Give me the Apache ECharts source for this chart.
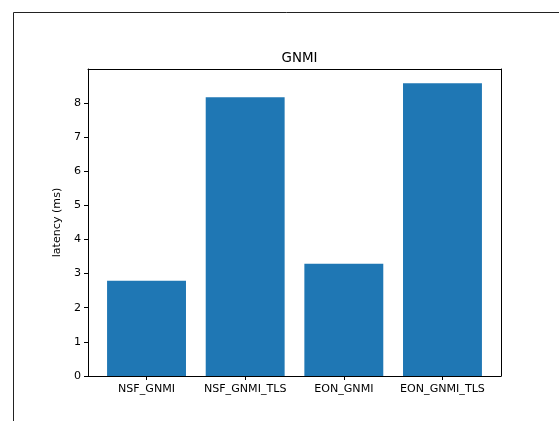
<!DOCTYPE html>
<html>
<head>
<meta charset="utf-8">
<script src="https://cdn.jsdelivr.net/npm/echarts@6/dist/echarts.min.js"></script>
<style>
  html, body { margin: 0; padding: 0; background: #fff; }
  #chart { width: 559px; height: 421px; }
</style>
</head>
<body>
<div id="chart"></div>
<script>
// Mean gNMI request latency per setup
const categories = ['NSF_GNMI', 'NSF_GNMI_TLS', 'EON_GNMI', 'EON_GNMI_TLS'];
const latencyMs = [2.79, 8.16, 3.29, 8.57];
const yTicks = [0, 1, 2, 3, 4, 5, 6, 7, 8];
const yMax = 8.99;

const FONT = 'DejaVu Sans';
const INK = '#000';

// Axes box and the inner band area where the bars sit
const box = { left: 88, top: 69, width: 413, height: 307 };
const barArea = { left: 97.2, top: 69, width: 394.6, height: 307 };

const chart = echarts.init(document.getElementById('chart'), null, { renderer: 'canvas' });

const lineStyle = { color: INK, width: 1 };
const spine = { show: true, onZero: false, lineStyle };

chart.setOption({
  animation: false,
  backgroundColor: '#fff',
  title: {
    text: 'GNMI',
    left: 294.5,
    top: 47,
    textAlign: 'center',
    textStyle: { fontFamily: FONT, fontSize: 13.4, fontWeight: 'normal', color: INK }
  },
  graphic: [
    // figure frame
    {
      type: 'polyline',
      shape: { points: [[13.5, 425], [13.5, 12.5], [565, 12.5]] },
      style: { stroke: '#222', lineWidth: 1, fill: null },
      silent: true
    }
  ],
  grid: [
    Object.assign({ containLabel: false }, box),
    Object.assign({ containLabel: false }, barArea)
  ],
  xAxis: [
    { // bottom spine
      type: 'value', gridIndex: 0, min: 0, max: 1, position: 'bottom',
      axisLine: spine, axisTick: { show: false },
      axisLabel: { show: false }, splitLine: { show: false }
    },
    { // top spine
      type: 'value', gridIndex: 0, min: 0, max: 1, position: 'top',
      axisLine: spine, axisTick: { show: false },
      axisLabel: { show: false }, splitLine: { show: false }
    },
    { // category ticks and labels
      type: 'category', gridIndex: 1, data: categories, position: 'bottom',
      axisLine: { show: false, onZero: false },
      axisTick: { show: true, alignWithLabel: true, interval: 0, length: 4, inside: false, lineStyle },
      axisLabel: { show: true, interval: 0, margin: 8, color: INK, fontFamily: FONT, fontSize: 11.1 },
      splitLine: { show: false }
    }
  ],
  yAxis: [
    { // left spine with value ticks
      type: 'value', gridIndex: 0, min: 0, max: yMax, interval: 1, position: 'left',
      name: 'latency (ms)', nameLocation: 'middle', nameGap: 21, nameRotate: 90,
      nameTextStyle: { color: INK, fontFamily: FONT, fontSize: 11.1 },
      axisLine: spine,
      axisTick: { show: true, length: 4, inside: false, lineStyle, customValues: yTicks },
      axisLabel: { show: true, margin: 7, color: INK, fontFamily: FONT, fontSize: 11.1, customValues: yTicks },
      splitLine: { show: false }
    },
    { // right spine
      type: 'value', gridIndex: 0, min: 0, max: yMax, position: 'right',
      axisLine: spine, axisTick: { show: false },
      axisLabel: { show: false }, splitLine: { show: false }
    },
    { // value scale for the bars
      type: 'value', gridIndex: 1, min: 0, max: yMax, show: false
    }
  ],
  series: [
    {
      type: 'bar',
      xAxisIndex: 2,
      yAxisIndex: 2,
      data: latencyMs,
      barWidth: '80%',
      itemStyle: { color: '#1f77b4' },
      silent: true
    }
  ]
});
</script>
</body>
</html>
